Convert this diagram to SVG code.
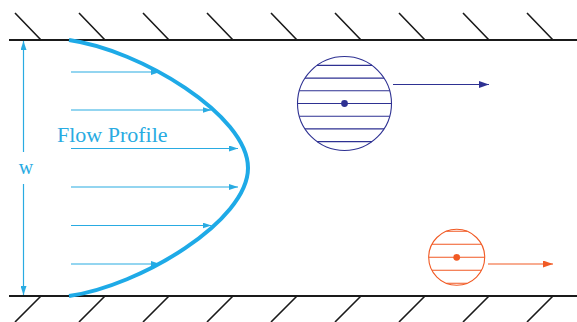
<svg xmlns="http://www.w3.org/2000/svg" width="577" height="322" viewBox="0 0 577 322">
<style>
.wall{stroke:#1a1a1a;stroke-width:2;fill:none}
.hatch{stroke:#1a1a1a;stroke-width:1.6;fill:none}
.flow{stroke:#29abe2;stroke-width:1.2;fill:none}
.blue{stroke:#2e3192;stroke-width:1.1;fill:none}
.orange{stroke:#f15a24;stroke-width:1.1;fill:none}
.lbl{font-family:"Liberation Serif","Times New Roman",serif;fill:#29abe2}
</style>
<defs>
<marker id="mc" markerUnits="userSpaceOnUse" markerWidth="9" markerHeight="6" refX="9" refY="3" orient="auto"><path d="M0,0 L9,3 L0,6 z" fill="#29abe2"/></marker>
<marker id="mb" markerUnits="userSpaceOnUse" markerWidth="10" markerHeight="7" refX="10" refY="3.5" orient="auto"><path d="M0,0 L10,3.5 L0,7 z" fill="#2e3192"/></marker>
<marker id="mo" markerUnits="userSpaceOnUse" markerWidth="10" markerHeight="7" refX="10" refY="3.5" orient="auto"><path d="M0,0 L10,3.5 L0,7 z" fill="#f15a24"/></marker>
</defs>
<rect width="577" height="322" fill="#ffffff"/>
<g id="top-wall">
<line class="wall" x1="9" y1="40" x2="577" y2="40"/>
<path class="hatch" d="M15,13 L41,40 M79,13 L105,40 M143,13 L169,40 M207,13 L233,40 M271,13 L297,40 M335,13 L361,40 M399,13 L425,40 M463,13 L489,40 M527,13 L553,40"/>
</g>
<g id="bottom-wall">
<line class="wall" x1="9" y1="296" x2="577" y2="296"/>
<path class="hatch" d="M41,296 L15,322 M105,296 L79,322 M169,296 L143,322 M233,296 L207,322 M297,296 L271,322 M361,296 L335,322 M425,296 L399,322 M489,296 L463,322 M553,296 L527,322"/>
</g>
<g id="connectors">
<line class="flow" x1="71" y1="72" x2="160" y2="72" marker-end="url(#mc)"/>
<line class="flow" x1="71" y1="110" x2="211.5" y2="110" marker-end="url(#mc)"/>
<line class="flow" x1="71" y1="148.5" x2="238" y2="148.5" marker-end="url(#mc)"/>
<line class="flow" x1="71" y1="187" x2="238" y2="187" marker-end="url(#mc)"/>
<line class="flow" x1="71" y1="225.5" x2="211.5" y2="225.5" marker-end="url(#mc)"/>
<line class="flow" x1="71" y1="264" x2="160" y2="264" marker-end="url(#mc)"/>
<line class="flow" x1="23.5" y1="152" x2="23.5" y2="41" marker-end="url(#mc)"/>
<line class="flow" x1="23.5" y1="184" x2="23.5" y2="295" marker-end="url(#mc)"/>
<line class="blue" x1="393" y1="84.5" x2="489" y2="84.5" marker-end="url(#mb)"/>
<line class="orange" x1="488" y1="264" x2="553" y2="264" marker-end="url(#mo)"/>
</g>
<g id="flow-profile">
<path d="M69,40 C140,50 248,115 248,168 C248,221 140,286 69,296" fill="none" stroke="#1eaae7" stroke-width="4"/>
<text class="lbl" x="57" y="141.5" font-size="22">Flow Profile</text>
</g>
<g id="width-label">
<text class="lbl" x="26" y="173.5" font-size="20" text-anchor="middle">w</text>
</g>
<g id="particle-large">
<circle class="blue" cx="344.5" cy="103.5" r="47"/>
<path class="blue" d="M317,65.4 H372 M305,78.1 H384 M299.25,90.8 H389.75 M297.5,103.5 H391.5 M299.25,116.2 H389.75 M305,128.9 H384 M317,141.6 H372"/>
<circle cx="344.5" cy="103.5" r="3.4" fill="#2e3192"/>
</g>
<g id="particle-small">
<circle class="orange" cx="456.7" cy="257.3" r="28"/>
<path class="orange" d="M446.3,231.3 H467.1 M431.9,244.3 H481.5 M428.7,257.3 H484.7 M431.9,270.3 H481.5 M446.3,283.3 H467.1"/>
<circle cx="456.7" cy="257.3" r="3.4" fill="#f15a24"/>
</g>
</svg>
